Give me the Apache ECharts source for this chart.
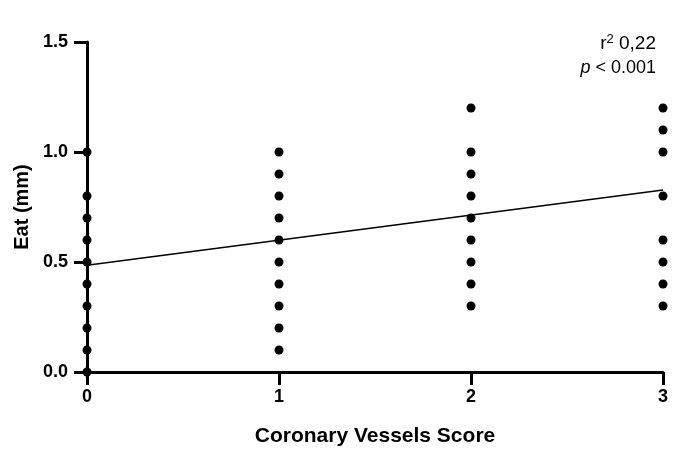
<!DOCTYPE html>
<html>
<head>
<meta charset="utf-8">
<script src="https://cdn.jsdelivr.net/npm/echarts@6/dist/echarts.min.js"></script>
<style>
  html, body { margin: 0; padding: 0; background: #fff; }
  #chart { width: 689px; height: 463px; }
</style>
</head>
<body>
<div id="chart"></div>
<script>
// values
const scores = [0, 1, 2, 3];
const eat0 = [0.0, 0.1, 0.2, 0.3, 0.4, 0.5, 0.6, 0.7, 0.8, 1.0];
const eat1 = [0.1, 0.2, 0.3, 0.4, 0.5, 0.6, 0.7, 0.8, 0.9, 1.0];
const eat2 = [0.3, 0.4, 0.5, 0.6, 0.7, 0.8, 0.9, 1.0, 1.2];
const eat3 = [0.3, 0.4, 0.5, 0.6, 0.8, 1.0, 1.1, 1.2];
const fitX = [0, 3];
const fitY = [0.485, 0.827];

const groups = [eat0, eat1, eat2, eat3];
const points = [];
groups.forEach((vals, i) => {
  vals.forEach(v => points.push([scores[i], v]));
});

const font = 'Liberation Sans, Arial, sans-serif';
const chart = echarts.init(document.getElementById('chart'));
chart.setOption({
  backgroundColor: '#fff',
  animation: false,
  grid: { left: 87, right: 26, top: 42, bottom: 91 },
  xAxis: {
    type: 'value',
    min: 0, max: 3, interval: 1,
    name: 'Coronary Vessels Score',
    nameLocation: 'middle',
    nameGap: 54,
    nameTextStyle: { fontFamily: font, fontWeight: 'bold', fontSize: 21, color: '#000' },
    axisLine: { lineStyle: { color: '#000', width: 3 } },
    axisTick: { show: true, length: 13, lineStyle: { color: '#000', width: 3 } },
    axisLabel: { fontFamily: font, fontWeight: 'bold', fontSize: 18, color: '#000', margin: 16 },
    splitLine: { show: false }
  },
  yAxis: {
    type: 'value',
    min: 0, max: 1.5, interval: 0.5,
    name: 'Eat (mm)',
    nameLocation: 'middle',
    nameGap: 54,
    nameTextStyle: { fontFamily: font, fontWeight: 'bold', fontSize: 20, color: '#000' },
    axisLine: { show: true, lineStyle: { color: '#000', width: 3 } },
    axisTick: { show: true, length: 13, lineStyle: { color: '#000', width: 3 } },
    axisLabel: {
      fontFamily: font, fontWeight: 'bold', fontSize: 18, color: '#000', margin: 19,
      formatter: v => v.toFixed(1)
    },
    splitLine: { show: false }
  },
  series: [
    {
      type: 'line',
      data: fitX.map((x, i) => [x, fitY[i]]),
      symbol: 'none',
      lineStyle: { color: '#000', width: 1.5 },
      z: 3
    },
    {
      type: 'scatter',
      data: points,
      symbolSize: 9,
      itemStyle: { color: '#000', opacity: 1 },
      clip: false,
      z: 4
    }
  ],
  graphic: [
    {
      type: 'text', right: 33, top: 33,
      style: {
        text: '{r|r}{s|2}{r| 0,22}',
        rich: {
          r: { fontSize: 19, fontFamily: font, fill: '#000', lineHeight: 22 },
          s: { fontSize: 13, fontFamily: font, fill: '#000', verticalAlign: 'top', lineHeight: 14 }
        }
      }
    },
    {
      type: 'text', right: 33, top: 59,
      style: {
        text: '{i|p}{n| < 0.001}',
        rich: {
          i: { fontStyle: 'italic', fontSize: 18, fontFamily: font, fill: '#000' },
          n: { fontSize: 18, fontFamily: font, fill: '#000' }
        }
      }
    }
  ]
});
</script>
</body>
</html>
